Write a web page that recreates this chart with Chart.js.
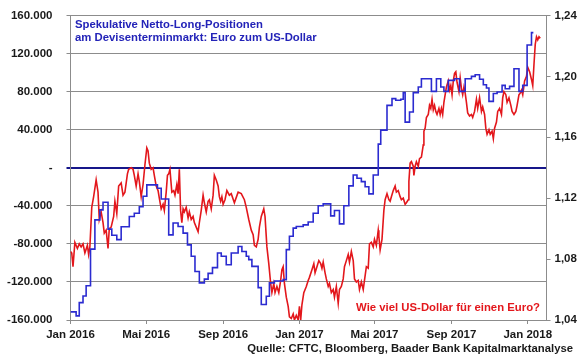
<!DOCTYPE html>
<html><head><meta charset="utf-8">
<script src="https://cdn.jsdelivr.net/npm/chart.js@4"></script>
<style>html,body{margin:0;padding:0;background:#fff}#wrap{width:580px;height:359px}</style>
</head><body><div id="wrap"><canvas id="c" width="580" height="359"></canvas></div>
<script>
// ---- data (days since 1 Jan 2016) ----
const tickDays = [0, 121, 244, 366, 486, 609, 731];
const tickLabels = ['Jan 2016','Mai 2016','Sep 2016','Jan 2017','Mai 2017','Sep 2017','Jan 2018'];

// Spekulative Netto-Long-Positionen (Kontrakte, in Tausend), wöchentliche Stufen
const blueDays = [0,9,14,20,25,32,39,47,52,60,
66,74,81,94,102,110,116,122,139,145,
157,164,172,180,187,193,199,206,214,220,
227,235,241,249,257,268,274,281,285,290,
300,305,313,318,326,340,345,350,356,361,
372,380,388,396,404,416,422,430,437,445,
452,458,465,471,477,484,492,496,506,514,
520,528,532,535,542,548,556,561,577,585,
592,597,604,614,622,631,641,647,654,660,
665,669,676,682,690,695,702,709,717,723,
730,737,740];
const blueValues = [-151.5,-155.7,-141.7,-134.7,-124,-85.5,-54.8,-44.3,-36.3,-64.5,
-71,-75.5,-62,-51.3,-47.8,-41,-30,-18,-21.6,-32.8,
-70.5,-58,-61.7,-68.7,-81,-93,-109,-121,-117,-111,
-105,-89.6,-93,-102,-89.6,-82.7,-88,-93,-96.6,-103.6,
-126,-143.7,-135,-121,-119,-117.6,-86,-72,-63.5,-61.7,
-60,-57,-47.8,-40,-38,-50.6,-45,-59,-40,-19,
-7.6,-11,-14.6,-20,-27.5,-7.6,24.8,39.5,65.6,72.6,
70.9,72,79,48,58.6,79,84.8,93.6,80.3,93.6,
84.8,80.3,91.8,93.6,80.3,93.6,96,97.8,93,87.3,
83.8,69.8,78,79.6,86.6,83,85.5,104,80.3,86.6,
129,142,142];

// EUR/USD
const redDays = [0,2,4,7,11,14,17,20,23,27,
29,31,34,37,41,44,46,49,52,54,
57,60,62,65,69,71,74,77,81,84,
87,91,93,97,100,102,105,108,110,113,
116,119,122,124,126,129,132,134,137,140,
142,145,148,150,153,155,157,159,162,165,
167,170,172,174,176,178,180,182,185,188,
190,193,196,198,201,204,206,209,212,214,
217,220,222,225,228,230,233,236,238,240,
242,244,247,250,254,257,262,268,273,278,
281,285,289,292,294,297,300,302,305,309,
311,314,317,320,322,325,327,330,333,336,
338,340,342,345,348,350,353,356,358,361,
364,366,368,370,373,377,380,382,386,389,
391,394,397,400,402,404,407,409,412,414,
417,420,422,425,428,430,433,436,438,441,
444,446,449,452,454,457,460,462,465,468,
470,473,476,478,481,484,486,489,492,493,
495,498,501,503,506,509,511,513,516,519,
521,524,527,529,532,535,537,540,541,543,
545,548,549,551,553,556,558,561,564,565,
567,569,572,574,576,578,580,582,584,586,
589,591,593,595,597,599,601,604,606,608,
610,612,614,616,618,621,623,625,627,629,
631,633,635,638,641,643,646,649,651,654,
657,659,662,664,666,669,671,674,676,678,
681,683,686,689,691,693,696,698,701,704,
706,709,712,714,717,719,721,723,726,729,
731,734,737,739,741,743,745,747,749,751];
const redValues = [1.085,1.084,1.075,1.091,1.087,1.090,1.088,1.090,1.084,1.089,
1.083,1.088,1.114,1.121,1.132,1.124,1.106,1.111,1.104,1.097,
1.099,1.087,1.100,1.101,1.108,1.118,1.110,1.128,1.130,1.122,
1.124,1.136,1.139,1.140,1.139,1.135,1.128,1.136,1.131,1.121,
1.129,1.142,1.153,1.151,1.143,1.139,1.140,1.135,1.128,1.125,
1.120,1.113,1.116,1.112,1.124,1.135,1.136,1.139,1.124,1.125,
1.122,1.129,1.123,1.139,1.112,1.104,1.113,1.111,1.114,1.107,
1.111,1.106,1.108,1.104,1.101,1.098,1.104,1.112,1.122,1.117,
1.111,1.118,1.119,1.113,1.122,1.135,1.132,1.128,1.121,1.118,
1.121,1.116,1.119,1.125,1.122,1.123,1.117,1.124,1.123,1.119,
1.114,1.106,1.099,1.096,1.089,1.088,1.093,1.101,1.108,1.113,
1.108,1.088,1.077,1.064,1.058,1.064,1.058,1.062,1.058,1.066,
1.073,1.075,1.064,1.055,1.049,1.042,1.041,1.044,1.040,1.043,
1.040,1.049,1.040,1.050,1.058,1.062,1.066,1.068,1.073,1.077,
1.071,1.075,1.079,1.077,1.074,1.078,1.071,1.067,1.062,1.064,
1.058,1.060,1.055,1.062,1.051,1.060,1.062,1.067,1.075,1.079,
1.083,1.078,1.085,1.079,1.067,1.065,1.066,1.060,1.065,1.060,
1.066,1.075,1.074,1.090,1.091,1.088,1.093,1.089,1.099,1.095,
1.086,1.093,1.112,1.119,1.123,1.119,1.118,1.121,1.125,1.128,
1.124,1.125,1.121,1.119,1.120,1.116,1.117,1.119,1.131,1.143,
1.144,1.141,1.135,1.141,1.144,1.141,1.146,1.147,1.155,1.164,
1.166,1.173,1.175,1.181,1.179,1.185,1.178,1.181,1.177,1.175,
1.179,1.175,1.179,1.175,1.183,1.188,1.193,1.197,1.191,1.194,
1.188,1.197,1.202,1.203,1.196,1.190,1.199,1.192,1.188,1.193,
1.189,1.183,1.176,1.174,1.175,1.173,1.177,1.185,1.179,1.186,
1.177,1.180,1.175,1.166,1.162,1.165,1.162,1.164,1.159,1.166,
1.170,1.177,1.179,1.175,1.186,1.190,1.188,1.183,1.186,1.181,
1.177,1.175,1.177,1.181,1.188,1.189,1.191,1.188,1.197,1.200,
1.206,1.203,1.198,1.194,1.208,1.221,1.226,1.224,1.226,1.225];

const titleLines = ['Spekulative Netto-Long-Positionen', 'am Devisenterminmarkt: Euro zum US-Dollar'];
const redNote = 'Wie viel US-Dollar für einen Euro?';
const sourceNote = 'Quelle: CFTC, Bloomberg, Baader Bank Kapitalmarktanalyse';

// ---- chart ----
const FONT = '"Liberation Sans", Arial, sans-serif';
const BLUE = '#2b2bd0', RED = '#e3171c', NAVY = '#16168a', GRID = '#8c8c8c', TXT = '#1a1a1a';

function fmtDe(v) {
  if (v === 0) return '-';
  const s = Math.round(Math.abs(v)).toString().replace(/\B(?=(\d{3})+(?!\d))/g, '.');
  return (v < 0 ? '-' : '') + s;
}

const textPlugin = {
  id: 'texts',
  afterDraw(chart) {
    const ctx = chart.ctx;
    function fit(text, x, y, targetW, align, color, base) {
      ctx.save();
      ctx.font = 'bold ' + base + 'px ' + FONT;
      const w = ctx.measureText(text).width;
      const px = base * targetW / w;
      ctx.font = 'bold ' + px.toFixed(2) + 'px ' + FONT;
      ctx.fillStyle = color; ctx.textAlign = align; ctx.textBaseline = 'middle';
      ctx.fillText(text, x, y);
      ctx.restore();
    }
    fit(titleLines[0], 75, 25, 188, 'left', '#2323b8', 11);
    fit(titleLines[1], 75, 37.5, 242, 'left', '#2323b8', 11);
    fit(redNote, 540, 307.5, 184, 'right', RED, 11);
    fit(sourceNote, 573, 349, 326, 'right', TXT, 11);
  }
};

function noVPad(s) { s.paddingTop = 0; s.paddingBottom = 0; }

new Chart(document.getElementById('c'), {
  type: 'line',
  data: {
    datasets: [
      {
        label: 'Netto-Long-Positionen',
        data: blueDays.map((d, i) => ({ x: d, y: blueValues[i] * 1000 })),
        yAxisID: 'y', borderColor: BLUE, borderWidth: 1.6, pointRadius: 0,
        stepped: 'before', tension: 0, fill: false
      },
      {
        label: 'EUR/USD',
        data: redDays.map((d, i) => ({ x: d, y: redValues[i] })),
        yAxisID: 'y2', borderColor: RED, borderWidth: 1.6, pointRadius: 0,
        tension: 0, fill: false
      }
    ]
  },
  options: {
    responsive: false, animation: false, devicePixelRatio: 1,
    layout: { padding: { top: 15.5, left: 0, right: 0, bottom: 0 } },
    plugins: { legend: { display: false }, tooltip: { enabled: false }, title: { display: false } },
    scales: {
      x: {
        type: 'linear', min: 0, max: 761,
        afterBuildTicks: (s) => { s.ticks = tickDays.map(v => ({ value: v })); },
        afterFit: (s) => { s.height = 39; s.paddingLeft = 0; s.paddingRight = 0; },
        ticks: {
          autoSkip: false, maxRotation: 0, padding: 4, color: TXT,
          font: { family: FONT, size: 11.5, weight: 'bold' },
          callback: (v) => tickLabels[tickDays.indexOf(v)]
        },
        grid: { drawOnChartArea: false, drawTicks: true, tickLength: 4, color: GRID },
        border: { display: true, color: GRID, width: 1 }
      },
      y: {
        position: 'left', min: -160000, max: 160000,
        afterFit: (s) => { s.width = 70.5; noVPad(s); },
        ticks: {
          stepSize: 40000, padding: 14, color: TXT,
          font: { family: FONT, size: 11.5, weight: 'bold' },
          callback: (v) => fmtDe(v)
        },
        grid: {
          drawTicks: true, tickLength: 4,
          color: (c) => (c.tick && c.tick.value === 0) ? NAVY : GRID,
          lineWidth: (c) => (c.tick && c.tick.value === 0) ? 2 : 1
        },
        border: { display: true, color: GRID, width: 1 }
      },
      y2: {
        position: 'right', min: 1.04, max: 1.24,
        afterFit: (s) => { s.width = 33.5; noVPad(s); },
        ticks: {
          stepSize: 0.04, padding: 4, color: TXT,
          font: { family: FONT, size: 11.5, weight: 'bold' },
          callback: (v) => v.toFixed(2).replace('.', ',')
        },
        grid: { drawOnChartArea: false, drawTicks: true, tickLength: 4, color: GRID },
        border: { display: true, color: GRID, width: 1 }
      }
    }
  },
  plugins: [textPlugin]
});
</script></body></html>
